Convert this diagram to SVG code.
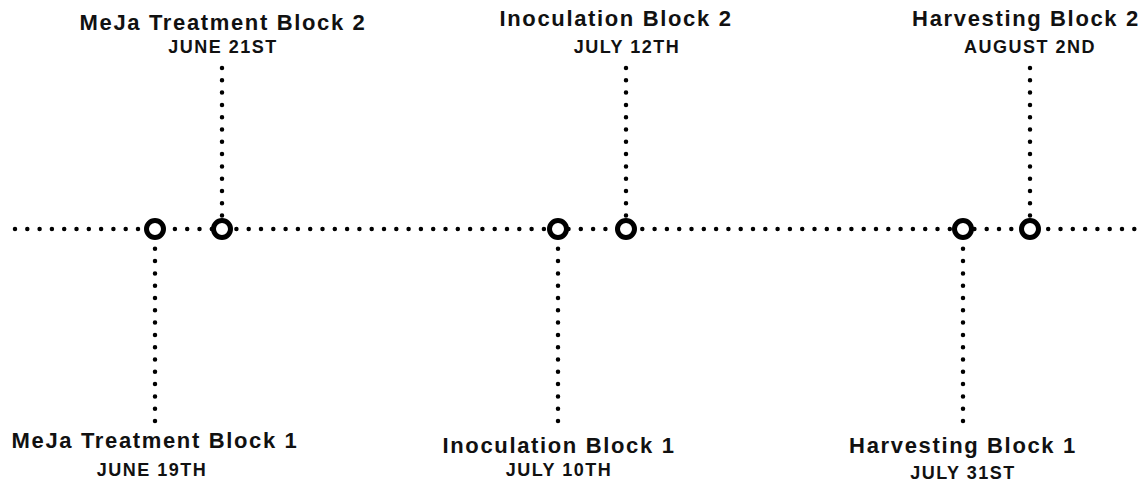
<svg xmlns="http://www.w3.org/2000/svg" width="1140" height="482" viewBox="0 0 1140 482">
<style>
.dot{stroke:#000;stroke-width:4.5;stroke-linecap:round;stroke-dasharray:0 12.3;fill:none}
.ring{fill:#fff;stroke:#000;stroke-width:5}
.t{font-family:"Liberation Sans",Arial,sans-serif;font-weight:bold;font-size:22px;letter-spacing:1.65px;text-anchor:middle;fill:#111}
.d{font-family:"Liberation Sans",Arial,sans-serif;font-weight:bold;font-size:18px;letter-spacing:1.5px;text-anchor:middle;fill:#111}
</style>
<rect width="1140" height="482" fill="#fff"/>
<g id="connectors">
<line class="dot" x1="15" y1="229" x2="1140" y2="229"/>
<line class="dot" x1="155" y1="421" x2="155" y2="229"/>
<line class="dot" x1="222" y1="68" x2="222" y2="229"/>
<line class="dot" x1="558" y1="421" x2="558" y2="229"/>
<line class="dot" x1="626" y1="68" x2="626" y2="229"/>
<line class="dot" x1="963" y1="421" x2="963" y2="229"/>
<line class="dot" x1="1030" y1="68" x2="1030" y2="229"/>
</g>
<g id="meja1">
<circle class="ring" cx="155" cy="229" r="8.5"/>
<text class="t" x="155" y="448">MeJa Treatment Block 1</text>
<text class="d" x="152" y="476">JUNE 19TH</text>
</g>
<g id="meja2">
<circle class="ring" cx="222" cy="229" r="8.5"/>
<text class="t" x="223" y="30">MeJa Treatment Block 2</text>
<text class="d" x="223" y="53">JUNE 21ST</text>
</g>
<g id="inoc1">
<circle class="ring" cx="558" cy="229" r="8.5"/>
<text class="t" x="559" y="453">Inoculation Block 1</text>
<text class="d" x="559" y="476">JULY 10TH</text>
</g>
<g id="inoc2">
<circle class="ring" cx="626" cy="229" r="8.5"/>
<text class="t" x="616" y="26">Inoculation Block 2</text>
<text class="d" x="627" y="53">JULY 12TH</text>
</g>
<g id="harv1">
<circle class="ring" cx="963" cy="229" r="8.5"/>
<text class="t" x="963" y="453">Harvesting Block 1</text>
<text class="d" x="963" y="479">JULY 31ST</text>
</g>
<g id="harv2">
<circle class="ring" cx="1030" cy="229" r="8.5"/>
<text class="t" x="1026" y="26">Harvesting Block 2</text>
<text class="d" x="1030" y="53">AUGUST 2ND</text>
</g>
</svg>
